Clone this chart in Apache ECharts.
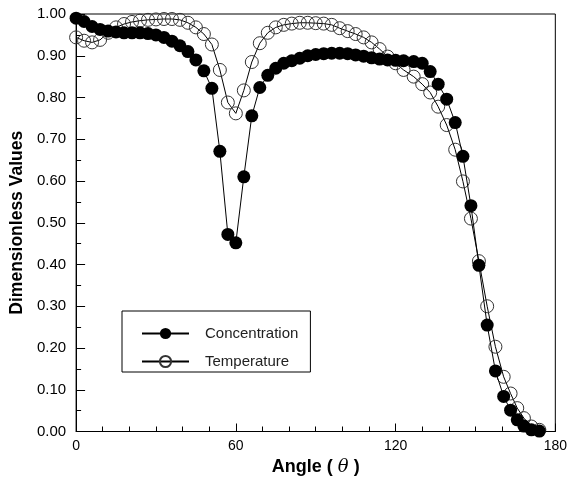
<!DOCTYPE html>
<html>
<head>
<meta charset="utf-8">
<script src="https://cdn.jsdelivr.net/npm/echarts@6/dist/echarts.min.js"></script>
<style>
  html, body { margin: 0; padding: 0; background: #fff; }
  #chart { width: 570px; height: 482px; }
</style>
</head>
<body>
<div id="chart"></div>
<script>
// Angle positions (degrees)
const angles = [0,3,6,9,12,15,18,21,24,27,30,33,36,39,42,45,48,51,54,57,60,63,66,69,72,75,78,81,84,87,90,93,96,99,102,105,108,111,114,117,120,123,126.8,130,133,136,139.2,142.4,145.3,148.3,151.3,154.4,157.5,160.6,163.2,165.7,168.2,171,174];

const concentration = [0.990,0.982,0.970,0.963,0.959,0.957,0.955,0.955,0.955,0.953,
  0.950,0.944,0.935,0.924,0.910,0.890,0.864,0.822,0.671,0.472,
  0.452,0.610,0.756,0.824,0.853,0.870,0.882,0.888,0.894,0.900,
  0.903,0.905,0.906,0.906,0.905,0.902,0.899,0.895,0.892,0.890,
  0.889,0.888,0.886,0.882,0.862,0.832,0.796,0.740,0.659,0.541,
  0.398,0.255,0.145,0.084,0.051,0.028,0.013,0.004,0.001];

const temperature = [0.944,0.936,0.932,0.938,0.955,0.968,0.976,0.981,0.984,0.986,
  0.987,0.988,0.988,0.986,0.979,0.968,0.952,0.927,0.866,0.788,
  0.762,0.817,0.885,0.930,0.955,0.968,0.974,0.977,0.979,0.979,
  0.978,0.977,0.974,0.966,0.959,0.952,0.944,0.932,0.916,0.898,
  0.882,0.866,0.850,0.832,0.812,0.778,0.734,0.675,0.599,0.510,
  0.408,0.300,0.203,0.131,0.091,0.056,0.032,0.012,0.004];

const seriesNames = ['Concentration', 'Temperature'];
const xTitle = 'Angle ( {t|θ} )';
const yTitle = 'Dimensionless Values';

const pairs = (ys) => angles.map((a, i) => [a, ys[i]]);

const chart = echarts.init(document.getElementById('chart'), null, { renderer: 'canvas' });
const font = 'Liberation Sans, Arial, sans-serif';

chart.setOption({
  animation: false,
  backgroundColor: '#fff',
  grid: {
    left: 76, right: 13, top: 14, bottom: 50.5,
    show: true, borderColor: '#000', borderWidth: 1, backgroundColor: 'transparent'
  },
  xAxis: {
    type: 'value', min: 0, max: 180, interval: 60,
    axisLine: { show: true, lineStyle: { color: '#000', width: 1 } },
    axisTick: { show: true, inside: true, length: 8, lineStyle: { color: '#000' } },
    minorTick: { show: true, splitNumber: 6, length: 5, lineStyle: { color: '#000' } },
    splitLine: { show: false },
    axisLabel: { color: '#000', fontSize: 14, fontFamily: font, margin: 8, showMaxLabel: true },
    name: xTitle, nameLocation: 'middle', nameGap: 23,
    nameTextStyle: {
      color: '#000', fontSize: 18, fontWeight: 'bold', fontFamily: font,
      rich: { t: { fontSize: 18, fontStyle: 'italic', fontWeight: 'normal', fontFamily: 'DejaVu Serif, serif', color: '#000' } }
    }
  },
  yAxis: {
    type: 'value', min: 0, max: 1, interval: 0.1,
    axisLine: { show: true, lineStyle: { color: '#000', width: 1 } },
    axisTick: { show: true, inside: true, length: 9, lineStyle: { color: '#000' } },
    minorTick: { show: true, splitNumber: 2, length: 5, lineStyle: { color: '#000' } },
    splitLine: { show: false },
    axisLabel: { color: '#000', fontSize: 15, fontFamily: font, margin: 10, formatter: v => v.toFixed(2) },
    name: yTitle, nameLocation: 'middle', nameGap: 49, nameRotate: 90,
    nameTextStyle: { color: '#000', fontSize: 17.5, fontWeight: 'bold', fontFamily: font }
  },
  legend: {
    data: seriesNames,
    orient: 'vertical', left: 122, top: 311,
    padding: [15, 12, 3, 19], itemGap: 13,
    itemWidth: 47, itemHeight: 14,
    borderColor: '#000', borderWidth: 1, backgroundColor: '#fff',
    textStyle: { color: '#222', fontSize: 15, lineHeight: 15, fontFamily: font, padding: [0, 0, 0, 11] }
  },
  series: [
    {
      name: seriesNames[1], type: 'line', data: pairs(temperature),
      symbol: 'circle', symbolSize: 13, z: 2,
      lineStyle: { color: '#000', width: 1 },
      itemStyle: { color: 'rgba(255,255,255,0)', borderColor: '#333', borderWidth: 1 }
    },
    {
      name: seriesNames[0], type: 'line', data: pairs(concentration),
      symbol: 'circle', symbolSize: 13, z: 3,
      lineStyle: { color: '#000', width: 1 },
      itemStyle: { color: '#000', borderColor: '#000', borderWidth: 0 }
    }
  ]
});
</script>
</body>
</html>
